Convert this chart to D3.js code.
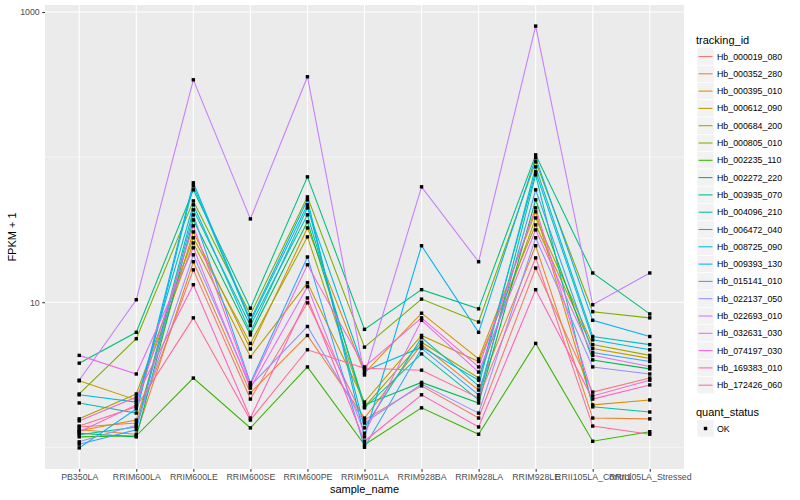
<!DOCTYPE html>
<html>
<head>
<meta charset="utf-8">
<script src="https://cdn.jsdelivr.net/npm/d3@7"></script>
<style>
body { margin: 0; background: #fff; }
text { font-family: "Liberation Sans", Arial, sans-serif; }
</style>
</head>
<body>
<svg id="chart" width="800" height="500"></svg>
<script>
// sample names along the x axis
var samples = ["PB350LA","RRIM600LA","RRIM600LE","RRIM600SE","RRIM600PE","RRIM901LA",
               "RRIM928BA","RRIM928LA","RRIM928LE","RRII105LA_Control","RRII105LA_Stressed"];

var trackingIds = ["Hb_000019_080","Hb_000352_280","Hb_000395_010","Hb_000612_090","Hb_000684_200",
                   "Hb_000805_010","Hb_002235_110","Hb_002272_220","Hb_003935_070","Hb_004096_210",
                   "Hb_006472_040","Hb_008725_090","Hb_009393_130","Hb_015141_010","Hb_022137_050",
                   "Hb_022693_010","Hb_032631_030","Hb_074197_030","Hb_169383_010","Hb_172426_060"];

// FPKM + 1, one array per gene, same order as samples
var hb_000019_080 = [1.38, 1.47, 16.7, 2.15, 9.9, 1.54, 2.65, 1.59, 17.2, 2.4, 3.0];
var hb_000352_280 = [1.32, 1.23, 19.0, 2.37, 5.9, 1.59, 5.1, 2.48, 24.5, 1.59, 1.57];
var hb_000395_010 = [1.3, 1.54, 30.5, 4.76, 32.5, 3.25, 8.4, 4.06, 42.0, 1.96, 2.12];
var hb_000612_090 = [2.87, 2.12, 25.6, 4.2, 13.6, 2.05, 5.9, 3.9, 34.1, 4.8, 4.1];
var hb_000684_200 = [1.57, 2.33, 27.8, 5.2, 28.2, 1.9, 5.3, 3.0, 38.1, 5.1, 4.3];
var hb_000805_010 = [2.33, 5.6, 49.9, 8.2, 53.2, 4.9, 10.5, 7.3, 92.8, 8.6, 7.8];
var hb_002235_110 = [1.18, 1.2, 3.0, 1.36, 3.58, 1.04, 1.87, 1.23, 5.2, 1.1, 1.28];
var hb_002272_220 = [1.25, 1.18, 36.9, 5.95, 35.8, 1.96, 2.8, 2.02, 50.8, 4.0, 3.47];
var hb_003935_070 = [3.8, 6.2, 59.5, 9.1, 73.1, 6.5, 12.2, 9.0, 103.7, 15.9, 8.3];
var hb_004096_210 = [1.22, 1.38, 43.3, 6.9, 40.0, 1.87, 4.4, 2.12, 75.5, 1.9, 1.75];
var hb_006472_040 = [2.02, 1.72, 63.4, 7.3, 46.9, 1.36, 5.7, 2.65, 85.7, 5.8, 5.1];
var hb_008725_090 = [2.3, 2.05, 46.9, 6.2, 44.7, 3.36, 4.9, 2.9, 79.2, 5.5, 4.7];
var hb_009393_130 = [0.99, 1.84, 66.5, 7.5, 50.8, 1.18, 24.5, 6.2, 98.9, 7.5, 5.8];
var hb_015141_010 = [1.05, 1.32, 40.0, 2.78, 20.5, 1.0, 4.8, 2.3, 59.5, 4.5, 3.9];
var hb_022137_050 = [1.09, 1.42, 21.2, 2.65, 6.8, 1.47, 2.73, 1.72, 27.8, 3.58, 3.2];
var hb_022693_010 = [2.9, 10.4, 341, 37.5, 358, 3.15, 62.4, 19.0, 800, 9.6, 15.9];
var hb_032631_030 = [4.3, 3.2, 23.7, 2.56, 12.8, 1.25, 7.5, 3.3, 31.5, 4.3, 3.6];
var hb_074197_030 = [1.28, 1.96, 33.6, 2.69, 18.1, 3.58, 7.8, 3.58, 44.7, 2.26, 2.9];
var hb_169383_010 = [1.52, 2.22, 13.2, 1.59, 10.7, 1.1, 2.3, 1.38, 12.2, 2.15, 2.69];
var hb_172426_060 = [1.4, 1.9, 7.8, 1.54, 4.7, 3.5, 3.4, 2.19, 20.2, 1.4, 1.23];

var yTicks = [10, 1000];
var yMinor = [1, 100];
var quantStatus = ["OK"];

var seriesValues = [hb_000019_080, hb_000352_280, hb_000395_010, hb_000612_090, hb_000684_200,
                    hb_000805_010, hb_002235_110, hb_002272_220, hb_003935_070, hb_004096_210,
                    hb_006472_040, hb_008725_090, hb_009393_130, hb_015141_010, hb_022137_050,
                    hb_022693_010, hb_032631_030, hb_074197_030, hb_169383_010, hb_172426_060];

var series = trackingIds.map(function(id, i) {
    return {id: id, values: seriesValues[i].map(function(v, j) { return {sample: samples[j], value: v}; })};
});

// R style hcl() colour (polar Luv), like ggplot's hue palette
var hcl = function(h, c, l) {
    var hr = h * Math.PI / 180;
    var U = c * Math.cos(hr), V = c * Math.sin(hr);
    var Xn = 95.047, Yn = 100, Zn = 108.883;
    var un = 4 * Xn / (Xn + 15 * Yn + 3 * Zn), vn = 9 * Yn / (Xn + 15 * Yn + 3 * Zn);
    var Y = Yn * Math.pow((l + 16) / 116, 3);
    var u = U / (13 * l) + un, v = V / (13 * l) + vn;
    var X = 9 * Y * u / (4 * v);
    var Z = Y * (12 - 3 * u - 20 * v) / (4 * v);
    X /= 100; Y /= 100; Z /= 100;
    var r = 3.240479 * X - 1.537150 * Y - 0.498535 * Z;
    var g = -0.969256 * X + 1.875992 * Y + 0.041556 * Z;
    var b = 0.055648 * X - 0.204043 * Y + 1.057311 * Z;
    var gam = function(t) {
        t = t <= 0.0031308 ? 12.92 * t : 1.055 * Math.pow(t, 1 / 2.4) - 0.055;
        return Math.round(255 * Math.max(0, Math.min(1, t)));
    };
    return d3.rgb(gam(r), gam(g), gam(b)).formatHex();
};

var n = trackingIds.length;
var colours = trackingIds.map(function(d, i) { return hcl(15 + 360 / n * i, 100, 65); });
var colour = d3.scaleOrdinal().domain(trackingIds).range(colours);

var svg = d3.select("#chart");
var panel = {left: 45, right: 684, top: 5, bottom: 469};

var xScale = d3.scalePoint()
    .domain(samples)
    .range([panel.left, panel.right])
    .padding(0.6);

var allValues = d3.merge(seriesValues);
var lo = Math.log10(d3.min(allValues)), hi = Math.log10(d3.max(allValues));
var pad = (hi - lo) * 0.05;
var yScale = d3.scaleLog()
    .domain([Math.pow(10, lo - pad), Math.pow(10, hi + pad)])
    .range([panel.bottom, panel.top]);

// panel background and grid
svg.append("rect")
    .attr("x", panel.left).attr("y", panel.top)
    .attr("width", panel.right - panel.left).attr("height", panel.bottom - panel.top)
    .attr("fill", "#EBEBEB");

var grid = svg.append("g");
grid.selectAll(".minor").data(yMinor).enter().append("line")
    .attr("x1", panel.left).attr("x2", panel.right)
    .attr("y1", function(d) { return yScale(d); }).attr("y2", function(d) { return yScale(d); })
    .attr("stroke", "#fff").attr("stroke-width", 0.53);
grid.selectAll(".major").data(yTicks).enter().append("line")
    .attr("x1", panel.left).attr("x2", panel.right)
    .attr("y1", function(d) { return yScale(d); }).attr("y2", function(d) { return yScale(d); })
    .attr("stroke", "#fff").attr("stroke-width", 1.07);
grid.selectAll(".vx").data(samples).enter().append("line")
    .attr("x1", function(d) { return xScale(d); }).attr("x2", function(d) { return xScale(d); })
    .attr("y1", panel.top).attr("y2", panel.bottom)
    .attr("stroke", "#fff").attr("stroke-width", 1.07);

// lines
var lineGen = d3.line()
    .x(function(d) { return xScale(d.sample); })
    .y(function(d) { return yScale(d.value); });

svg.append("g").selectAll("path").data(series).enter().append("path")
    .attr("d", function(s) { return lineGen(s.values); })
    .attr("fill", "none")
    .attr("stroke", function(s) { return colour(s.id); })
    .attr("stroke-width", 1.07);

// points
var pts = d3.merge(series.map(function(s) { return s.values; }));
svg.append("g").selectAll("rect").data(pts).enter().append("rect")
    .attr("x", function(d) { return xScale(d.sample) - 1.7; })
    .attr("y", function(d) { return yScale(d.value) - 1.7; })
    .attr("width", 3.4).attr("height", 3.4)
    .attr("fill", "#000");

// axes
var xAxis = d3.axisBottom(xScale).tickSize(2.74).tickPadding(2.5);
var yAxis = d3.axisLeft(yScale).tickValues(yTicks).tickFormat(d3.format("d")).tickSize(2.74).tickPadding(2.5);

var gx = svg.append("g").attr("transform", "translate(0," + panel.bottom + ")").call(xAxis);
var gy = svg.append("g").attr("transform", "translate(" + panel.left + ",0)").call(yAxis);
[gx, gy].forEach(function(g) {
    g.select(".domain").remove();
    g.selectAll(".tick line").attr("stroke", "#333333").attr("stroke-width", 1.07);
    g.selectAll(".tick text").attr("fill", "#4D4D4D").style("font-size", "8.8px")
        .style("font-family", "'Liberation Sans', Arial, sans-serif");
});

// axis titles
svg.append("text")
    .text("sample_name")
    .attr("x", (panel.left + panel.right) / 2).attr("y", 493)
    .attr("text-anchor", "middle").style("font-size", "11px").attr("fill", "#000");

svg.append("g")
    .attr("transform", "translate(16," + ((panel.top + panel.bottom) / 2) + ")")
    .append("text")
    .text("FPKM + 1")
    .attr("text-anchor", "middle")
    .attr("transform", "rotate(-90)")
    .style("font-size", "11px").attr("fill", "#000");

// legend: tracking_id
var legend = svg.append("g").attr("transform", "translate(697,0)");
legend.append("text").text("tracking_id")
    .attr("x", -1).attr("y", 44).style("font-size", "11px");

var keyH = 17.3, keyTop = 48;
var keys = legend.selectAll(".key").data(trackingIds).enter().append("g")
    .attr("transform", function(d, i) { return "translate(0," + (keyTop + i * keyH) + ")"; });
keys.append("rect")
    .attr("width", 17).attr("height", 17)
    .attr("fill", "#F2F2F2").attr("stroke", "#fff").attr("stroke-width", 0.5);
keys.append("line")
    .attr("x1", 1.5).attr("x2", 15.5).attr("y1", 8.5).attr("y2", 8.5)
    .attr("stroke", function(d) { return colour(d); }).attr("stroke-width", 1.07);
keys.append("text").text(function(d) { return d; })
    .attr("x", 20).attr("y", 8.5).attr("dy", "0.35em")
    .style("font-size", "8.8px").attr("fill", "#000");

// legend: quant_status
var legend2 = svg.append("g").attr("transform", "translate(697,0)");
legend2.append("text").text("quant_status")
    .attr("x", -1).attr("y", 416).style("font-size", "11px");
var qk = legend2.selectAll(".qk").data(quantStatus).enter().append("g")
    .attr("transform", function(d, i) { return "translate(0," + (420 + i * keyH) + ")"; });
qk.append("rect")
    .attr("width", 17).attr("height", 17)
    .attr("fill", "#F2F2F2").attr("stroke", "#fff").attr("stroke-width", 0.5);
qk.append("rect")
    .attr("x", 6.8).attr("y", 6.8).attr("width", 3.4).attr("height", 3.4).attr("fill", "#000");
qk.append("text").text(function(d) { return d; })
    .attr("x", 20).attr("y", 8.5).attr("dy", "0.35em")
    .style("font-size", "8.8px").attr("fill", "#000");
</script>
</body>
</html>
